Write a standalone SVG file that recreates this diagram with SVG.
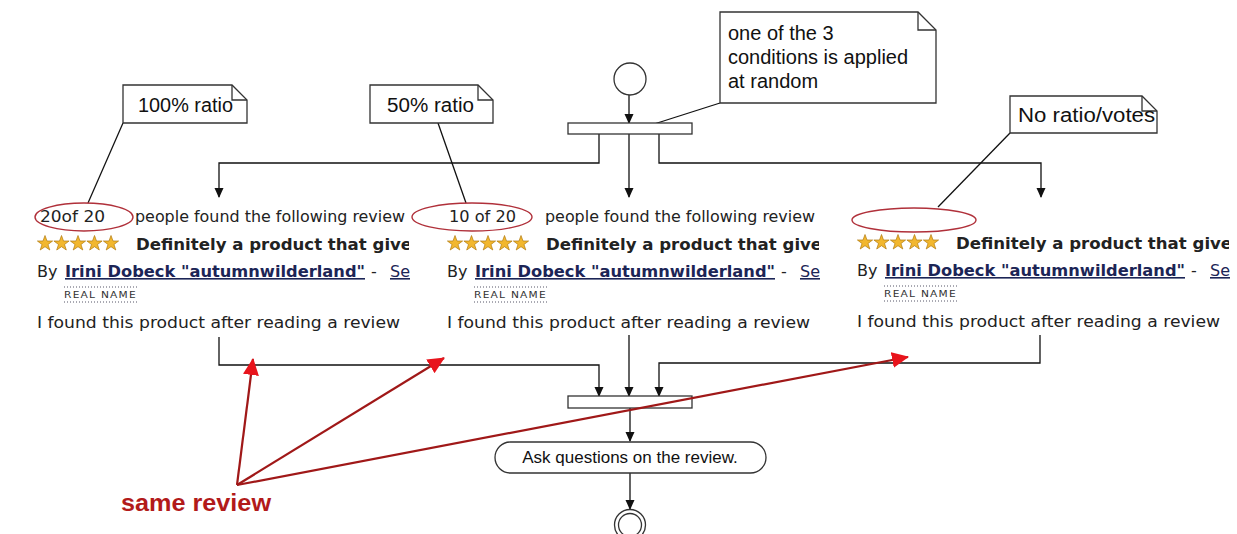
<svg xmlns="http://www.w3.org/2000/svg" width="1237" height="534" viewBox="0 0 1237 534">
<style>
.ln{fill:none;stroke:#111;stroke-width:1.3}
.box{fill:#fff;stroke:#333;stroke-width:1.3}
.note{font-family:"Liberation Sans",Arial,sans-serif;font-size:20px;fill:#111}
.rv{font-family:"DejaVu Sans",Verdana,sans-serif;font-size:16px;fill:#222}
.b{font-weight:bold}
.nm{font-weight:bold;fill:#1c2556;text-decoration:underline}
.lk{fill:#1c2556;text-decoration:underline}
.rn{font-family:"DejaVu Sans",Verdana,sans-serif;font-size:8.5px;fill:#333;letter-spacing:1px}
.dot{stroke:#556;stroke-width:1;stroke-dasharray:1 2}
.ell{fill:none;stroke:#b0303a;stroke-width:1.4}
.red{fill:none;stroke:#a01818;stroke-width:2.2}
.star{fill:#f2b72e;stroke:#b07a10;stroke-width:0.7}
</style>
<defs>
<marker id="ah" markerUnits="userSpaceOnUse" markerWidth="10" markerHeight="10" refX="9" refY="5" orient="auto">
<path d="M0,0.5 L10,5 L0,9.5 z" fill="#111"/>
</marker>
<marker id="rh" markerUnits="userSpaceOnUse" markerWidth="18" markerHeight="16" refX="16" refY="8" orient="auto">
<path d="M0,0 L17,8 L0,16 z" fill="#e8141c"/>
</marker>
<path id="st" class="star" d="M8,0.5 L10,6 L15.6,6 L11,9.5 L12.8,15 L8,11.7 L3.2,15 L5,9.5 L0.4,6 L6,6 z"/>
<g id="stars">
<use href="#st" x="37" y="235"/><use href="#st" x="53.5" y="235"/><use href="#st" x="70" y="235"/><use href="#st" x="86.5" y="235"/><use href="#st" x="103" y="235"/>
</g>
<clipPath id="cc"><rect x="30" y="230" width="379" height="30"/></clipPath>
</defs>
<rect width="1237" height="534" fill="#fff"/>

<g id="connectors">
<line class="ln" x1="629" y1="95" x2="629" y2="123" marker-end="url(#ah)"/>
<polyline class="ln" points="599,134 599,163 219,163 219,197" marker-end="url(#ah)"/>
<line class="ln" x1="629" y1="134" x2="629" y2="197" marker-end="url(#ah)"/>
<polyline class="ln" points="659,134 659,163 1041,163 1041,197" marker-end="url(#ah)"/>
<polyline class="ln" points="219,337 219,365 599,365 599,396" marker-end="url(#ah)"/>
<line class="ln" x1="629" y1="335" x2="629" y2="396" marker-end="url(#ah)"/>
<polyline class="ln" points="1040,335 1040,363 659,363 659,396" marker-end="url(#ah)"/>
<line class="ln" x1="630" y1="408" x2="630" y2="441" marker-end="url(#ah)"/>
<line class="ln" x1="630" y1="473" x2="630" y2="509" marker-end="url(#ah)"/>
<line class="ln" x1="123" y1="123" x2="88" y2="203"/>
<line class="ln" x1="438" y1="123" x2="466" y2="203"/>
<line class="ln" x1="720" y1="103" x2="651" y2="125"/>
<line class="ln" x1="1010" y1="133" x2="938" y2="207"/>
</g>

<g id="start"><circle cx="630" cy="79" r="16" class="box"/></g>
<g id="fork"><rect x="568" y="123" width="124" height="11" class="box"/></g>

<g id="note-random">
<path class="box" d="M720,12 H918 L936,30 V103 H720 Z"/>
<path class="ln" d="M918,12 V30 H936" style="stroke:#333"/>
<text class="note" x="728" y="40">one of the 3</text>
<text class="note" x="728" y="64">conditions is applied</text>
<text class="note" x="728" y="88">at random</text>
</g>

<g id="note-100">
<path class="box" d="M123,85 H232 L247,100 V123 H123 Z"/>
<path class="ln" d="M232,85 V100 H247" style="stroke:#333"/>
<text class="note" x="138" y="112" textLength="95" lengthAdjust="spacingAndGlyphs">100% ratio</text>
</g>

<g id="note-50">
<path class="box" d="M370,85 H478 L493,100 V123 H370 Z"/>
<path class="ln" d="M478,85 V100 H493" style="stroke:#333"/>
<text class="note" x="387" y="112" textLength="87" lengthAdjust="spacingAndGlyphs">50% ratio</text>
</g>

<g id="note-none">
<path class="box" d="M1010,96 H1142 L1157,111 V133 H1010 Z"/>
<path class="ln" d="M1142,96 V111 H1157" style="stroke:#333"/>
<text class="note" x="1018" y="122" textLength="137" lengthAdjust="spacingAndGlyphs">No ratio/votes</text>
</g>

<g id="review-100">
<text class="rv" x="40" y="222" textLength="65" lengthAdjust="spacingAndGlyphs">20of 20</text>
<text class="rv" x="135" y="222" textLength="270" lengthAdjust="spacingAndGlyphs">people found the following review</text>
<use href="#stars"/>
<text class="rv b" x="136" y="250" textLength="286" lengthAdjust="spacingAndGlyphs" clip-path="url(#cc)">Definitely a product that gives</text>
<text class="rv" x="37" y="277">By</text>
<text class="rv nm" x="65" y="277" textLength="300" lengthAdjust="spacingAndGlyphs">Irini Dobeck "autumnwilderland"</text>
<text class="rv" x="371" y="277">-</text>
<text class="rv lk" x="390" y="277">Se</text>
<line class="dot" x1="64" y1="287" x2="137" y2="287"/>
<text class="rn" x="64" y="298" textLength="73" lengthAdjust="spacingAndGlyphs">REAL NAME</text>
<line class="dot" x1="64" y1="302" x2="137" y2="302"/>
<text class="rv" x="37" y="328" textLength="363" lengthAdjust="spacingAndGlyphs">I found this product after reading a review</text>
<ellipse class="ell" cx="84" cy="217" rx="49" ry="14"/>
</g>

<g id="review-50" transform="translate(410,0)">
<text class="rv" x="39" y="222" textLength="67" lengthAdjust="spacingAndGlyphs">10 of 20</text>
<text class="rv" x="135" y="222" textLength="270" lengthAdjust="spacingAndGlyphs">people found the following review</text>
<use href="#stars"/>
<text class="rv b" x="136" y="250" textLength="286" lengthAdjust="spacingAndGlyphs" clip-path="url(#cc)">Definitely a product that gives</text>
<text class="rv" x="37" y="277">By</text>
<text class="rv nm" x="65" y="277" textLength="300" lengthAdjust="spacingAndGlyphs">Irini Dobeck "autumnwilderland"</text>
<text class="rv" x="371" y="277">-</text>
<text class="rv lk" x="390" y="277">Se</text>
<line class="dot" x1="64" y1="287" x2="137" y2="287"/>
<text class="rn" x="64" y="298" textLength="73" lengthAdjust="spacingAndGlyphs">REAL NAME</text>
<line class="dot" x1="64" y1="302" x2="137" y2="302"/>
<text class="rv" x="37" y="328" textLength="363" lengthAdjust="spacingAndGlyphs">I found this product after reading a review</text>
<ellipse class="ell" cx="62" cy="217" rx="60" ry="14"/>
</g>

<g id="review-none" transform="translate(820,0)">
<use href="#stars" y="-1"/>
<text class="rv b" x="136" y="249" textLength="286" lengthAdjust="spacingAndGlyphs" clip-path="url(#cc)">Definitely a product that gives</text>
<text class="rv" x="37" y="276">By</text>
<text class="rv nm" x="65" y="276" textLength="300" lengthAdjust="spacingAndGlyphs">Irini Dobeck "autumnwilderland"</text>
<text class="rv" x="371" y="276">-</text>
<text class="rv lk" x="390" y="276">Se</text>
<line class="dot" x1="64" y1="286" x2="137" y2="286"/>
<text class="rn" x="64" y="297" textLength="73" lengthAdjust="spacingAndGlyphs">REAL NAME</text>
<line class="dot" x1="64" y1="301" x2="137" y2="301"/>
<text class="rv" x="37" y="327" textLength="363" lengthAdjust="spacingAndGlyphs">I found this product after reading a review</text>
<ellipse class="ell" cx="94" cy="220" rx="62" ry="12"/>
</g>

<g id="join"><rect x="568" y="396" width="124" height="12" class="box"/></g>

<g id="action">
<rect x="495" y="442" width="271" height="31" rx="15.5" class="box"/>
<text x="630" y="463" text-anchor="middle" style="font-family:'Liberation Sans',Arial,sans-serif;font-size:17px;fill:#111">Ask questions on the review.</text>
</g>

<g id="end">
<circle cx="630" cy="525" r="15.5" class="box"/>
<circle cx="630" cy="525" r="11.5" class="box"/>
</g>

<g id="same-review">
<line class="red" x1="237" y1="485" x2="253" y2="359" marker-end="url(#rh)"/>
<line class="red" x1="237" y1="485" x2="444" y2="358" marker-end="url(#rh)"/>
<line class="red" x1="237" y1="485" x2="908" y2="357" marker-end="url(#rh)"/>
<text x="121" y="511" textLength="150" lengthAdjust="spacingAndGlyphs" style="font-family:'Liberation Sans',Arial,sans-serif;font-weight:bold;font-size:24px;fill:#b21a1a">same review</text>
</g>
</svg>
